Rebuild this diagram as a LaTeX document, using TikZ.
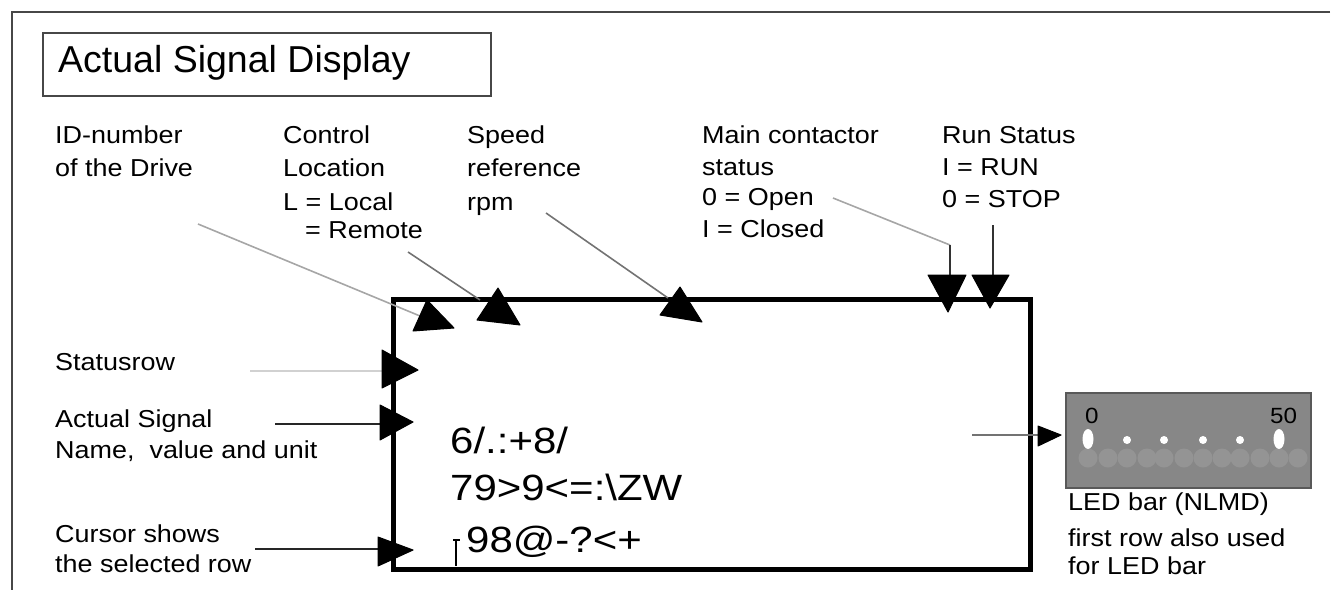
\documentclass[tikz,border=0pt]{standalone}
\usepackage{fontspec}
\setmainfont{Liberation Sans}
\newfontfamily\lblfont[FakeStretch=1.1]{Liberation Sans}
\newfontfamily\dispfont[FakeStretch=1.15]{Liberation Sans}
\begin{document}
\begin{tikzpicture}[x=1pt,y=-1pt,
  lbl/.style={anchor=base west, inner sep=0pt, font=\lblfont\fontsize{24.5}{30}\selectfont},
  disptxt/.style={anchor=base west, inner sep=0pt, font=\dispfont\fontsize{36.5}{44}\selectfont},
  ledtxt/.style={anchor=base west, inner sep=0pt, font=\lblfont\fontsize{22}{26}\selectfont},
  tri/.style={fill=black, draw=black, line join=round, line width=1pt},
  lead/.style={line width=1.6pt},
  dimled/.style={fill=black!42},
  brightled/.style={fill=white},
]
\useasboundingbox (0,0) rectangle (1332,590);

% outer frame
\draw[line width=2.2pt, draw=black!72] (1330,12) -- (12,12) -- (12,590);

% title
\node[draw=black!72, line width=2pt, minimum width=448pt, minimum height=63pt, anchor=north west, inner sep=0pt] (titlebox) at (42,32) {};
\node[anchor=base west, inner sep=0pt, font=\fontsize{37.5}{44}\selectfont] (title) at (58,72) {Actual Signal Display};

% display
\node[draw=black, line width=4.5pt, minimum width=637pt, minimum height=270pt, anchor=north west, inner sep=0pt] (display) at (391,297) {};
\node[disptxt] (row1) at (450,453) {6/.:+8/};
\node[disptxt] (row2) at (450,500) {79>9<=:\textbackslash ZW};
\node[disptxt] (row3) at (466,552) {98@-?<+};
\draw[line width=2.5pt] (453,540) -- (460,540) (456,540) -- (456,566);

% top labels
\node[lbl] (id1) at (55,143) {ID-number};
\node[lbl] (id2) at (55,176) {of the Drive};
\node[lbl] (cl1) at (283,143) {Control};
\node[lbl] (cl2) at (283,176) {Location};
\node[lbl] (cl3) at (283,210) {L = Local};
\node[lbl] (cl4) at (305,238) {= Remote};
\node[lbl] (sp1) at (467,143) {Speed};
\node[lbl] (sp2) at (467,176) {reference};
\node[lbl] (sp3) at (467,210) {rpm};
\node[lbl] (mc1) at (702,143) {Main contactor};
\node[lbl] (mc2) at (702,175) {status};
\node[lbl] (mc3) at (702,205) {0 = Open};
\node[lbl] (mc4) at (702,237) {I = Closed};
\node[lbl] (rs1) at (942,143) {Run Status};
\node[lbl] (rs2) at (942,175) {I = RUN};
\node[lbl] (rs3) at (942,207) {0 = STOP};

% left labels
\node[lbl] (st) at (55,370) {Statusrow};
\node[lbl] (as1) at (55,427) {Actual Signal};
\node[lbl] (as2) at (55,458) {Name,~ value and unit};
\node[lbl] (cu1) at (55,542) {Cursor shows};
\node[lbl] (cu2) at (55,572) {the selected row};

% connector coordinates
\coordinate (idS) at (198,224);   \coordinate (idE) at (420,316);
\coordinate (clS) at (408,252);   \coordinate (clE) at (480,300);
\coordinate (spS) at (546,213);   \coordinate (spE) at (668,298);
\coordinate (mcS) at (833,198);   \coordinate (mcK) at (950,245); \coordinate (mcE) at (950,280);
\coordinate (rsS) at (993,225);   \coordinate (rsE) at (993,280);
\coordinate (stS) at (250,371);   \coordinate (stE) at (385,371);
\coordinate (asS) at (275,424);   \coordinate (asE) at (385,424);
\coordinate (cuS) at (255,549);   \coordinate (cuE) at (385,549);
\coordinate (ldS) at (972,435);   \coordinate (ldE) at (1040,435);

\draw[lead, black!35] (idS) -- (idE);
\draw[lead, black!55] (clS) -- (clE);
\draw[lead, black!55] (spS) -- (spE);
\draw[lead, black!35] (mcS) -- (mcK);
\draw[lead, black!80] (mcK) -- (mcE);
\draw[lead, black!80] (rsS) -- (rsE);
\draw[lead, black!18] (stS) -- (stE);
\draw[lead, black!85] (asS) -- (asE);
\draw[lead, black!85] (cuS) -- (cuE);
\draw[lead, black!55] (ldS) -- (ldE);

% arrowheads
\fill[tri] (427,300) -- (413,331) -- (454,328) -- cycle;
\fill[tri] (498,288) -- (477,320) -- (520,325) -- cycle;
\fill[tri] (680,287) -- (660,315) -- (702,322) -- cycle;
\fill[tri] (928,275) -- (966,275) -- (948,312) -- cycle;
\fill[tri] (972,275) -- (1009,275) -- (990,308) -- cycle;
\fill[tri] (382,350) -- (382,388) -- (418,370) -- cycle;
\fill[tri] (380,405) -- (380,440) -- (413,422) -- cycle;
\fill[tri] (378,537) -- (378,566) -- (413,550) -- cycle;
\fill[tri] (1038,426) -- (1038,446) -- (1061,435) -- cycle;

% LED bar
\node[draw=black!65, fill=black!47, line width=2pt, minimum width=245pt, minimum height=95pt, anchor=north west, inner sep=0pt] (led) at (1065,392) {};
\begin{scope}
  \clip (1066,393) rectangle (1309,486);
  \foreach \x in {1088,1108,1127,1147,1164,1184,1203,1222,1240,1260,1279,1298}
    \fill[dimled] (\x,458) circle (9.5);
\end{scope}
\fill[brightled] (1088,439) ellipse (5.5 and 10);
\fill[brightled] (1279,439) ellipse (5.5 and 10);
\foreach \x in {1127,1164,1203,1240}
  \fill[brightled] (\x,440) circle (4);
\node[ledtxt] (l0) at (1085,423) {0};
\node[ledtxt] (l50) at (1270,423) {50};
\node[lbl] (lc1) at (1068,510) {LED bar (NLMD)};
\node[lbl] (lc2) at (1068,546) {first row also used};
\node[lbl] (lc3) at (1068,574) {for LED bar};
\end{tikzpicture}
\end{document}
